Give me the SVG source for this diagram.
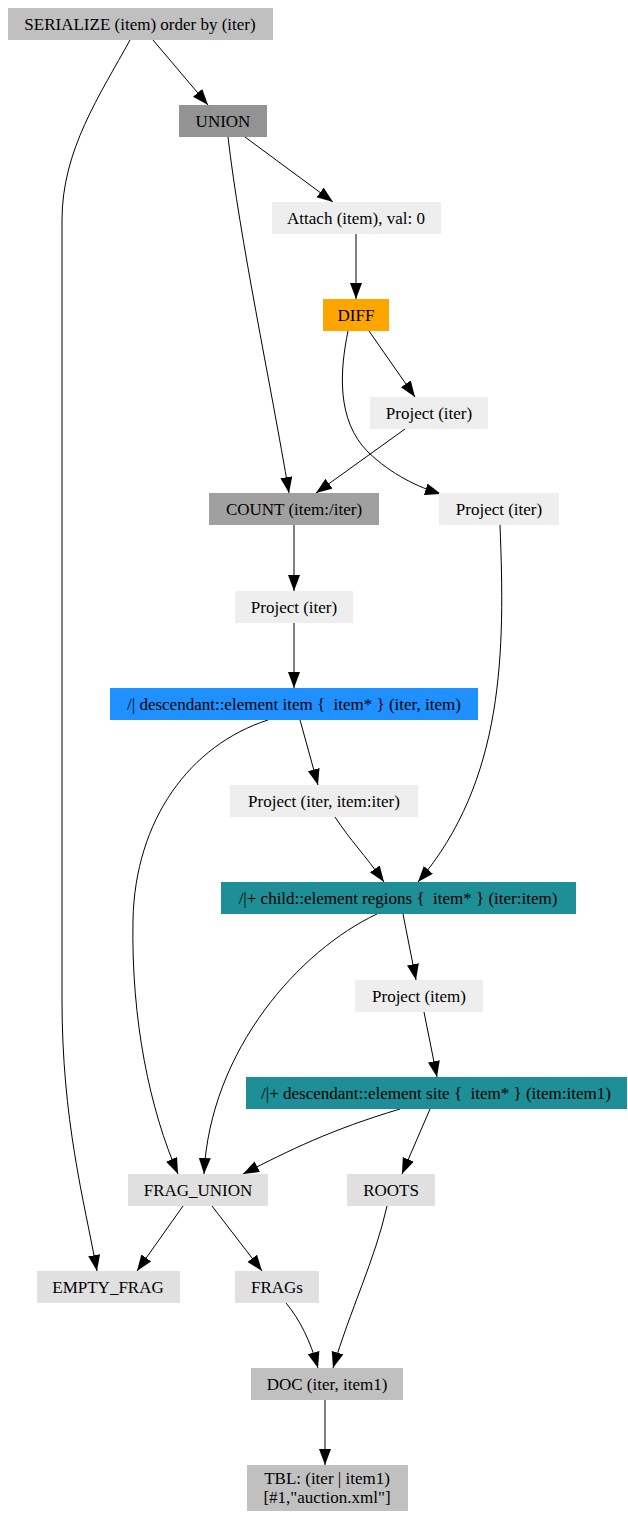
<svg xmlns="http://www.w3.org/2000/svg" width="628" height="1513" viewBox="0 0 628 1513">
  <style>
    .lbl { font-family: "Liberation Serif", "Times New Roman", serif; font-size: 17px; fill: #000; text-anchor: middle; }
    .edge { fill: none; stroke: #000; stroke-width: 1; }
    .light { fill: #eeeeee; }
    .frag { fill: #e0e0e0; }
    .silver { fill: #c0c0c0; }
    .teal { fill: #1e8f96; }
  </style>
  <defs>
    <marker id="arrow" markerUnits="userSpaceOnUse" markerWidth="18" markerHeight="14" refX="16" refY="6" orient="auto">
      <path d="M0,0 L16,6 L0,12 Z" fill="#000"/>
    </marker>
  </defs>
  <rect width="628" height="1513" fill="#ffffff"/>

  <!-- connectors -->
  <g id="edges" marker-end="url(#arrow)">
    <path class="edge" d="M153,40 L208,105"/>
    <path class="edge" d="M130,40 C100,95 62,150 62,220 L62,1000 C62,1120 84,1200 97,1271"/>
    <path class="edge" d="M245,137 L333,202"/>
    <path class="edge" d="M228,137 C240,240 270,380 289,493"/>
    <path class="edge" d="M356,234 L356,299"/>
    <path class="edge" d="M369,331 L415,397"/>
    <path class="edge" d="M348,331 C340,370 336,420 368,452 C392,475 418,487 441,494"/>
    <path class="edge" d="M405,429 L316,493"/>
    <path class="edge" d="M294,525 L294,591"/>
    <path class="edge" d="M294,623 L294,688"/>
    <path class="edge" d="M300,720 L318,785"/>
    <path class="edge" d="M268,720 C190,745 135,820 133,920 C131,1020 150,1110 178,1174"/>
    <path class="edge" d="M500,525 C505,650 505,780 418,882"/>
    <path class="edge" d="M335,817 C350,840 365,855 384,882"/>
    <path class="edge" d="M403,914 L416,980"/>
    <path class="edge" d="M377,914 C300,950 210,1050 204,1174"/>
    <path class="edge" d="M424,1012 L437,1077"/>
    <path class="edge" d="M400,1109 C330,1130 290,1150 243,1174"/>
    <path class="edge" d="M430,1109 L402,1174"/>
    <path class="edge" d="M183,1206 L137,1271"/>
    <path class="edge" d="M212,1206 L262,1271"/>
    <path class="edge" d="M387,1206 C375,1260 350,1310 333,1368"/>
    <path class="edge" d="M286,1303 C300,1320 310,1340 318,1368"/>
    <path class="edge" d="M325,1400 L325,1465"/>
  </g>

  <!-- nodes -->
  <g id="serialize"><rect class="silver" x="8" y="8" width="265" height="32"/><text class="lbl" x="140" y="30">SERIALIZE (item) order by (iter)</text></g>
  <g id="union"><rect x="179" y="105" width="88" height="32" fill="#939393"/><text class="lbl" x="223" y="127">UNION</text></g>
  <g id="attach"><rect class="light" x="272" y="202" width="169" height="32"/><text class="lbl" x="356" y="224">Attach (item), val: 0</text></g>
  <g id="diff"><rect x="323" y="299" width="66" height="32" fill="#ffa500"/><text class="lbl" x="356" y="321">DIFF</text></g>
  <g id="project1"><rect class="light" x="370" y="397" width="118" height="32"/><text class="lbl" x="429" y="419">Project (iter)</text></g>
  <g id="count"><rect x="209" y="493" width="170" height="32" fill="#a0a0a0"/><text class="lbl" x="294" y="515">COUNT (item:/iter)</text></g>
  <g id="project2"><rect class="light" x="439" y="493" width="120" height="32"/><text class="lbl" x="499" y="515">Project (iter)</text></g>
  <g id="project3"><rect class="light" x="235" y="591" width="118" height="32"/><text class="lbl" x="294" y="613">Project (iter)</text></g>
  <g id="desc_item"><rect x="110" y="688" width="368" height="32" fill="#1e90ff"/><text class="lbl" x="294" y="710">/| descendant::element item {&#160; item* } (iter, item)</text></g>
  <g id="project4"><rect class="light" x="230" y="785" width="188" height="32"/><text class="lbl" x="324" y="807">Project (iter, item:iter)</text></g>
  <g id="child_regions"><rect class="teal" x="221" y="882" width="355" height="32"/><text class="lbl" x="398" y="904">/|+ child::element regions {&#160; item* } (iter:item)</text></g>
  <g id="project5"><rect class="light" x="355" y="980" width="128" height="32"/><text class="lbl" x="419" y="1002">Project (item)</text></g>
  <g id="desc_site"><rect class="teal" x="246" y="1077" width="381" height="32"/><text class="lbl" x="436" y="1099">/|+ descendant::element site {&#160; item* } (item:item1)</text></g>
  <g id="frag_union"><rect class="frag" x="128" y="1174" width="140" height="32"/><text class="lbl" x="198" y="1196">FRAG_UNION</text></g>
  <g id="roots"><rect class="frag" x="347" y="1174" width="88" height="32"/><text class="lbl" x="391" y="1196">ROOTS</text></g>
  <g id="empty_frag"><rect class="frag" x="37" y="1271" width="143" height="32"/><text class="lbl" x="108" y="1293">EMPTY_FRAG</text></g>
  <g id="frags"><rect class="frag" x="235" y="1271" width="84" height="32"/><text class="lbl" x="277" y="1293">FRAGs</text></g>
  <g id="doc"><rect class="silver" x="251" y="1368" width="152" height="32"/><text class="lbl" x="327" y="1390">DOC (iter, item1)</text></g>
  <g id="tbl"><rect class="silver" x="247" y="1465" width="161" height="46"/><text class="lbl" x="327" y="1484">TBL: (iter | item1)</text><text class="lbl" x="327" y="1503">[#1,"auction.xml"]</text></g>
</svg>
